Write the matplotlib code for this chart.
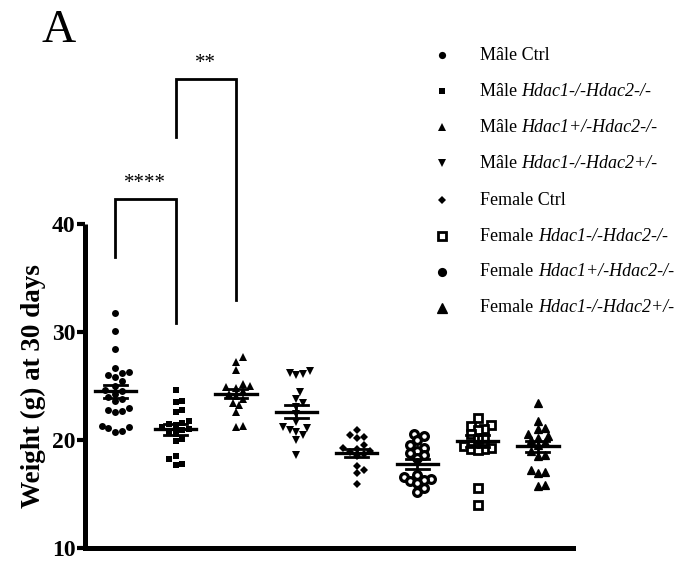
import matplotlib
matplotlib.use("Agg")
import matplotlib.pyplot as plt
import numpy as np
from matplotlib.lines import Line2D

plt.rcParams['font.family'] = ['Liberation Serif', 'DejaVu Serif']

# body weight at 30 days (g), one list per genotype / sex
male_ctrl = [31.8, 30.1, 28.4, 26.7, 26.3, 26.2, 26.0, 25.8, 25.5, 25.0, 24.6, 24.5,
             24.3, 24.0, 23.8, 23.6, 23.0, 22.8, 22.7, 22.6, 21.3, 21.1, 20.8, 20.7, 21.2]
male_dko = [24.6, 23.6, 23.5, 22.8, 22.6, 21.8, 21.6, 21.5, 21.4, 21.2, 21.0, 20.9,
            20.7, 20.6, 20.1, 19.9, 18.5, 18.2, 17.8, 17.7]
male_h1het = [27.7, 27.2, 26.5, 25.2, 25.0, 24.9, 24.8, 24.5, 24.3, 24.1, 23.8, 23.4,
              23.2, 22.6, 21.3, 21.2]
male_h2het = [26.4, 26.2, 26.1, 26.0, 24.4, 23.8, 23.4, 23.1, 22.4, 21.7, 21.2, 21.1,
              20.9, 20.7, 20.5, 20.0, 18.6]
female_ctrl = [20.9, 20.5, 20.3, 20.2, 19.5, 19.3, 19.2, 19.0, 18.9, 18.7, 18.5, 17.6,
               17.2, 16.9, 15.9]
female_g6 = [20.6, 20.4, 20.0, 19.5, 19.3, 19.0, 18.8, 18.6, 18.3, 16.8, 16.6, 16.4,
             16.3, 16.2, 16.0, 15.6, 15.2]
female_g7 = [22.0, 21.4, 21.3, 21.0, 20.9, 20.6, 20.2, 20.1, 19.4, 19.3, 19.2, 19.2,
             19.1, 15.6, 14.0]
female_g8 = [23.4, 21.8, 21.1, 21.0, 20.6, 20.4, 20.2, 20.0, 19.8, 19.5, 19.0, 18.6,
             18.5, 17.2, 17.0, 16.9, 15.8, 15.7]

groups = [male_ctrl, male_dko, male_h1het, male_h2het,
          female_ctrl, female_g6, female_g7, female_g8]

# mean and SEM of each group
means = [24.5, 21.0, 24.3, 22.6, 18.8, 17.8, 19.9, 19.4]
sems = [0.6, 0.5, 0.45, 0.6, 0.35, 0.45, 0.55, 0.5]

legend_sex = ["Mâle", "Mâle", "Mâle", "Mâle", "Female", "Female", "Female", "Female"]
legend_geno = ["Ctrl", "Hdac1-/-Hdac2-/-", "Hdac1+/-Hdac2-/-", "Hdac1-/-Hdac2+/-",
               "Ctrl", "Hdac1-/-Hdac2-/-", "Hdac1+/-Hdac2-/-", "Hdac1-/-Hdac2+/-"]

# marker style per group in the plot and in the key
plot_marks = [dict(marker='o', ms=5.0, mfc='k', mec='k', mew=0),
              dict(marker='s', ms=4.8, mfc='k', mec='k', mew=0),
              dict(marker='^', ms=5.8, mfc='k', mec='k', mew=0),
              dict(marker='v', ms=5.8, mfc='k', mec='k', mew=0),
              dict(marker='D', ms=4.2, mfc='k', mec='k', mew=0),
              dict(marker='o', ms=5.6, mfc='w', mec='k', mew=2.3),
              dict(marker='s', ms=5.2, mfc='w', mec='k', mew=2.0),
              dict(marker='^', ms=6.2, mfc='k', mec='k', mew=0.9)]
key_marks = [dict(marker='o', ms=5.2, mfc='k', mec='k', mew=0),
             dict(marker='s', ms=5.0, mfc='k', mec='k', mew=0),
             dict(marker='^', ms=6.0, mfc='k', mec='k', mew=0),
             dict(marker='v', ms=6.0, mfc='k', mec='k', mew=0),
             dict(marker='D', ms=4.2, mfc='k', mec='k', mew=0),
             dict(marker='s', ms=5.4, mfc='w', mec='k', mew=2.0),
             dict(marker='o', ms=6.6, mfc='k', mec='k', mew=0),
             dict(marker='^', ms=6.6, mfc='k', mec='k', mew=0.9)]


def swarm_offsets(values, px_x=60.4, px_y=10.8, size=6.8):
    # spread points sideways so markers don't overlap (pixel space)
    values = np.asarray(values)
    order = np.argsort(values)
    placed = []
    offs = np.zeros(len(values))
    cands = [0.0]
    for k in range(1, 40):
        cands += [k * size / 2, -k * size / 2]
    for i in order:
        y = values[i] * px_y
        for c in cands:
            if all((c - px) ** 2 + (y - py) ** 2 >= size ** 2 for px, py in placed):
                placed.append((c, y))
                offs[i] = c / px_x
                break
    return offs


W, H = 686, 566
fig = plt.figure(figsize=(W / 100, H / 100), dpi=100)
ax = fig.add_axes([85 / W, 18 / H, (573 - 85) / W, (548 - 224) / H])

for i, vals in enumerate(groups):
    xs = i + swarm_offsets(vals)
    ax.plot(xs, vals, ls='none', clip_on=False, zorder=3, **plot_marks[i])
    m, s = means[i], sems[i]
    ax.plot([i - 0.34, i + 0.34], [m, m], color='k', lw=2.4, zorder=4)
    ax.plot([i - 0.19, i + 0.19], [m + s, m + s], color='k', lw=2.0, zorder=4)
    ax.plot([i - 0.19, i + 0.19], [m - s, m - s], color='k', lw=2.0, zorder=4)
    ax.plot([i, i], [m - s, m + s], color='k', lw=2.0, zorder=4)

ax.set_xlim(-0.5, 7.58)
ax.set_ylim(10, 40)
ax.set_yticks([10, 20, 30, 40])
ax.set_xticks([])
for side in ['top', 'right']:
    ax.spines[side].set_visible(False)
ax.spines['left'].set_linewidth(3.6)
ax.spines['bottom'].set_linewidth(3.6)
ax.spines['left'].set_capstyle('butt')
ax.tick_params(axis='y', length=6, width=3, pad=1, labelsize=17)
for lab in ax.get_yticklabels():
    lab.set_fontweight('bold')
ax.set_ylabel("Weight (g) at 30 days", fontsize=19.5, fontweight='bold', labelpad=4)

# significance brackets
brk = dict(color='k', lw=2.0, clip_on=False, solid_joinstyle='miter')
ax.plot([0, 0, 1, 1], [36.9, 42.3, 42.3, 30.8], **brk)
ax.text(0.5, 42.9, "****", ha='center', va='bottom', fontsize=15)
ax.plot([1, 1, 2, 2], [48.1, 53.4, 53.4, 33.0], **brk)
ax.text(1.5, 54.0, "**", ha='center', va='bottom', fontsize=15)

fig.text(41 / W, 1 - 42 / H, "A", fontsize=34, ha='left', va='baseline')

# key on the right
row_y = [55, 91, 127, 163, 200, 236, 272, 308]
for i in range(8):
    yf = 1 - row_y[i] / H
    fig.add_artist(Line2D([442 / W], [yf], ls='none', **key_marks[i]))
    if legend_geno[i] == "Ctrl":
        fig.text(480 / W, yf, legend_sex[i] + " Ctrl", fontsize=13, va='center', ha='left')
    else:
        t = fig.text(480 / W, yf, legend_sex[i] + " ", fontsize=13, va='center', ha='left')
        ax.annotate(legend_geno[i], xy=(1, 0), xycoords=t, fontsize=13,
                    style='italic', ha='left', va='bottom', annotation_clip=False)

fig.savefig("out.png", dpi=100)
